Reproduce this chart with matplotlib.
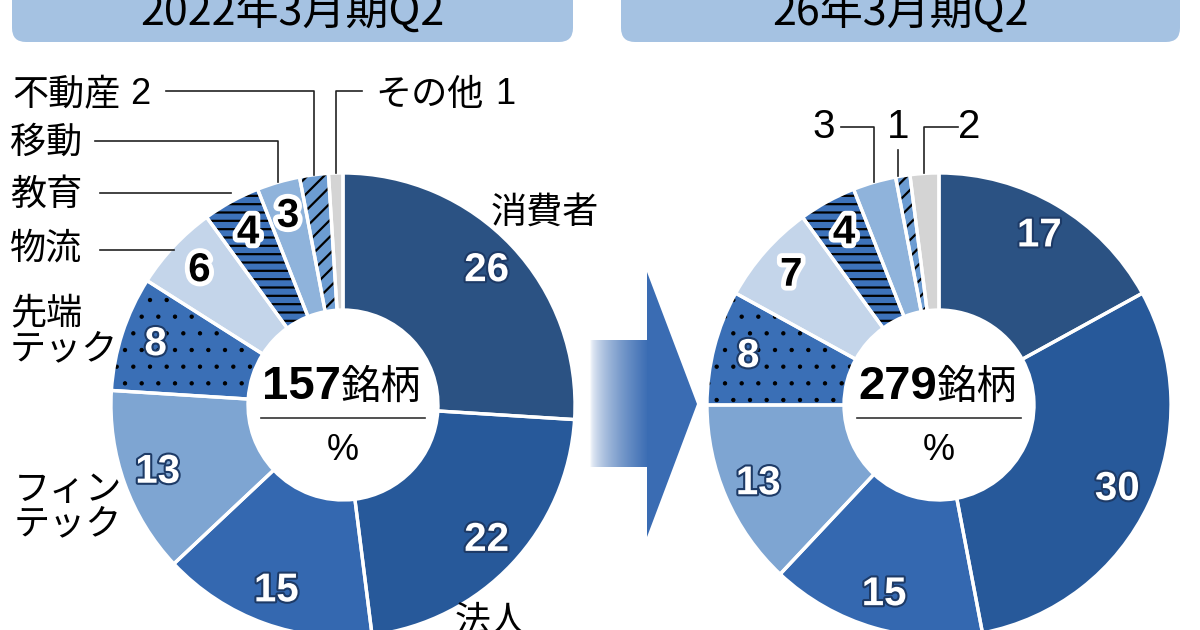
import matplotlib
matplotlib.use("Agg")
import matplotlib.pyplot as plt
import matplotlib.patheffects as pe
from matplotlib.patches import FancyBboxPatch, Wedge, Polygon
from matplotlib.colors import LinearSegmentedColormap
import numpy as np

plt.rcParams['font.family'] = ['Noto Sans CJK JP', 'DejaVu Sans']
plt.rcParams['hatch.linewidth'] = 1.6

W, H = 1200, 630

# data
titles = ['2022年3月期Q2', '26年3月期Q2']
totals = ['157', '279']
shares_2022 = [26, 22, 15, 13, 8, 6, 4, 3, 2, 1]
shares_2026 = [17, 30, 15, 13, 8, 7, 4, 3, 1, 2]
# sector order: 消費者, 法人, (cut off), フィンテック, 先端テック, 物流, 教育, 移動, 不動産, その他
colors = ['#2b5283', '#27599a', '#3468b0', '#7ea5d2', '#3a6fb6',
          '#c4d5ea', '#3d72ba', '#8fb3db', '#6c9cd2', '#d4d4d4']
hatches = [None, None, None, None, '.', None, '--', None, '//', None]
dark_num = [False, False, False, False, False, True, True, True, False, False]

NUM_FONT = ['Liberation Sans', 'DejaVu Sans']

fig = plt.figure(figsize=(12, 6.3), dpi=100)
ax = fig.add_axes([0, 0, 1, 1])


def Y(y):
    return H - y


def draw_donut(cx, cy, shares, total, title, box_x0, box_x1, min_inside):
    R, r_in = 232, 95
    wedges, _ = ax.pie(shares, colors=colors, startangle=90, counterclock=False,
                       center=(cx, Y(cy)), radius=R,
                       wedgeprops=dict(width=R - r_in, linewidth=0))
    for w, h in zip(wedges, hatches):
        if h:
            lw = 0.7 if h == '.' else 1.6
            with plt.rc_context({'hatch.linewidth': lw}):
                ax.add_patch(Wedge(w.center, w.r, w.theta1, w.theta2, width=w.width,
                                   facecolor='none', edgecolor='black', hatch=h,
                                   linewidth=0, zorder=2))
    for w in wedges:
        ax.add_patch(Wedge(w.center, w.r, w.theta1, w.theta2, width=w.width,
                           facecolor='none', edgecolor='white', linewidth=2.4,
                           zorder=3))
    # numbers in wedges
    for w, v, dk in zip(wedges, shares, dark_num):
        if v < min_inside:
            continue
        a = np.deg2rad((w.theta1 + w.theta2) / 2)
        rl = 197
        x = w.center[0] + rl * np.cos(a)
        y = w.center[1] + rl * np.sin(a)
        if dk:
            fc, sc, sw = 'black', 'white', 7
        else:
            fc, sc, sw = 'white', '#1d3a66', 3
        ax.text(x, y, str(v), ha='center', va='center', fontsize=29,
                family=NUM_FONT, weight='bold', color=fc, zorder=5,
                path_effects=[pe.withStroke(linewidth=sw, foreground=sc)])
    # centre label
    ax.text(cx - 2, Y(399), total, ha='right', va='baseline', fontsize=34,
            weight='bold', family=NUM_FONT, zorder=5)
    ax.text(cx - 2, Y(399), '銘柄', ha='left', va='baseline', fontsize=29, zorder=5)
    ax.plot([cx - 82, cx + 82], [Y(418), Y(418)], color='#333333', lw=1.2, zorder=5)
    ax.text(cx, Y(451), '%', ha='center', va='center', fontsize=26,
            family=NUM_FONT, zorder=5)
    # title box
    ax.add_patch(FancyBboxPatch((box_x0, Y(42)), box_x1 - box_x0, 80,
                                boxstyle='round,pad=0,rounding_size=14',
                                facecolor='#a5c2e2', edgecolor='none', zorder=1))
    ax.text((box_x0 + box_x1) / 2, Y(25), title, ha='center', va='baseline',
            fontsize=31, zorder=2)
    return wedges


def outer_point(w):
    a = np.deg2rad((w.theta1 + w.theta2) / 2)
    return w.center[0] + w.r * np.cos(a), w.center[1] + w.r * np.sin(a)


def leader(w, x_start, y_label):
    ax_, ay_ = outer_point(w)
    yl = Y(y_label)
    if abs(ay_ - yl) < 10:
        ax.plot([x_start, ax_], [yl, yl], color='#222222', lw=1.2, zorder=4)
    else:
        ax.plot([x_start, ax_, ax_], [yl, yl, ay_], color='#222222', lw=1.2, zorder=4)


left = draw_donut(343, 405, shares_2022, totals[0], titles[0], 12, 573, 3)
right = draw_donut(939, 405, shares_2026, totals[1], titles[1], 621, 1180, 4)

# left labels
lab_kw = dict(fontsize=26, va='center', ha='left', zorder=5)
ax.text(491, Y(213), '消費者', **lab_kw)
ax.text(455, Y(622), '法人', **lab_kw)
ax.text(10, Y(332), '先端\nテック', linespacing=0.95, **lab_kw)
ax.text(14, Y(507), 'フィン\nテック', linespacing=0.95, **lab_kw)
ax.text(10, Y(249), '物流', **lab_kw)
ax.text(10, Y(195), '教育', **lab_kw)
ax.text(10, Y(143), '移動', **lab_kw)
ax.text(12, Y(95), '不動産', **lab_kw)
ax.text(130, Y(95), str(shares_2022[8]), family=NUM_FONT, **lab_kw)
ax.text(375, Y(95), 'その他', **lab_kw)
ax.text(495, Y(95), str(shares_2022[9]), family=NUM_FONT, **lab_kw)

leader(left[5], 100, 250)
leader(left[6], 100, 193)
leader(left[7], 95, 141)
leader(left[8], 166, 91)
leader(left[9], 362, 91)

# right small labels
num_kw = dict(fontsize=29, va='center', ha='center', family=NUM_FONT, zorder=5)
ax.text(824, Y(127), str(shares_2026[7]), **num_kw)
leader(right[7], 841, 127)
x1, y1 = outer_point(right[8])
ax.text(x1 - 5, Y(127), str(shares_2026[8]), **num_kw)
ax.plot([x1 - 5, x1 - 5], [Y(150), y1], color='#222222', lw=1.2, zorder=4)
ax.text(969, Y(127), str(shares_2026[9]), **num_kw)
leader(right[9], 958, 127)

# arrow between the two donuts
arrow_col = '#3a6cb3'
cmap = LinearSegmentedColormap.from_list('fade', ['white', arrow_col])
grad = np.linspace(0, 1, 200) ** 0.6
ax.imshow(grad[np.newaxis, :], cmap=cmap, aspect='auto',
          extent=(590, 649, Y(467), Y(340)), zorder=1)
ax.add_patch(Polygon([(647, Y(272)), (697, Y(404)), (647, Y(537))],
                     closed=True, facecolor=arrow_col, edgecolor='none', zorder=1))

ax.set_xlim(0, W)
ax.set_ylim(0, H)
ax.set_aspect('auto')
ax.axis('off')

fig.savefig('out.png', dpi=100)
